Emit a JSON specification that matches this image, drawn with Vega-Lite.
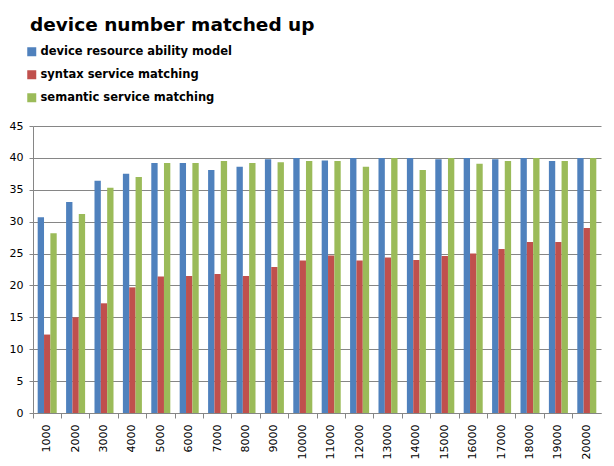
{
  "$schema": "https://vega.github.io/schema/vega-lite/v6.json",
  "width": 568,
  "height": 287,
  "autosize": {"type": "none"},
  "padding": {"left": 33, "top": 126, "right": 13, "bottom": 53},
  "background": "white",
  "title": {
    "text": "device number matched up",
    "anchor": "start",
    "frame": "group",
    "font": "DejaVu Sans",
    "fontSize": 18.5,
    "fontWeight": "bold",
    "color": "black",
    "offset": 12,
    "dx": -3
  },
  "data": {
    "values": [
      {"n": "1000", "device resource ability model": 30.7, "syntax service matching": 12.3, "semantic service matching": 28.2},
      {"n": "2000", "device resource ability model": 33.1, "syntax service matching": 15.0, "semantic service matching": 31.2},
      {"n": "3000", "device resource ability model": 36.4, "syntax service matching": 17.2, "semantic service matching": 35.3},
      {"n": "4000", "device resource ability model": 37.5, "syntax service matching": 19.7, "semantic service matching": 37.0},
      {"n": "5000", "device resource ability model": 39.2, "syntax service matching": 21.4, "semantic service matching": 39.2},
      {"n": "6000", "device resource ability model": 39.2, "syntax service matching": 21.5, "semantic service matching": 39.2},
      {"n": "7000", "device resource ability model": 38.1, "syntax service matching": 21.8, "semantic service matching": 39.5},
      {"n": "8000", "device resource ability model": 38.6, "syntax service matching": 21.5, "semantic service matching": 39.2},
      {"n": "9000", "device resource ability model": 39.8, "syntax service matching": 22.9, "semantic service matching": 39.3},
      {"n": "10000", "device resource ability model": 40.0, "syntax service matching": 23.9, "semantic service matching": 39.5},
      {"n": "11000", "device resource ability model": 39.6, "syntax service matching": 24.7, "semantic service matching": 39.5},
      {"n": "12000", "device resource ability model": 40.0, "syntax service matching": 23.9, "semantic service matching": 38.6},
      {"n": "13000", "device resource ability model": 40.0, "syntax service matching": 24.4, "semantic service matching": 40.0},
      {"n": "14000", "device resource ability model": 40.0, "syntax service matching": 24.0, "semantic service matching": 38.1},
      {"n": "15000", "device resource ability model": 39.8, "syntax service matching": 24.6, "semantic service matching": 40.0},
      {"n": "16000", "device resource ability model": 40.0, "syntax service matching": 25.0, "semantic service matching": 39.1},
      {"n": "17000", "device resource ability model": 39.8, "syntax service matching": 25.7, "semantic service matching": 39.5},
      {"n": "18000", "device resource ability model": 40.0, "syntax service matching": 26.8, "semantic service matching": 40.0},
      {"n": "19000", "device resource ability model": 39.5, "syntax service matching": 26.8, "semantic service matching": 39.5},
      {"n": "20000", "device resource ability model": 40.0, "syntax service matching": 29.0, "semantic service matching": 40.0}
    ]
  },
  "transform": [
    {"fold": ["device resource ability model", "syntax service matching", "semantic service matching"], "as": ["series", "value"]}
  ],
  "mark": {"type": "bar"},
  "encoding": {
    "x": {
      "field": "n",
      "type": "nominal",
      "sort": null,
      "scale": {"paddingInner": 0, "paddingOuter": 0},
      "axis": {
        "title": null,
        "labelAngle": -90,
        "labelAlign": "right",
        "labelBaseline": "middle",
        "labelFont": "DejaVu Sans",
        "labelFontSize": 11,
        "labelColor": "black",
        "labelPadding": 6,
        "bandPosition": 0,
        "ticks": true,
        "tickSize": 5,
        "tickColor": "#868686",
        "domainColor": "#868686",
        "grid": false
      }
    },
    "xOffset": {
      "field": "series",
      "type": "nominal",
      "sort": ["device resource ability model", "syntax service matching", "semantic service matching"],
      "scale": {"paddingInner": 0, "paddingOuter": 0.74}
    },
    "y": {
      "field": "value",
      "type": "quantitative",
      "scale": {"domain": [0, 45], "nice": false},
      "axis": {
        "title": null,
        "values": [0, 5, 10, 15, 20, 25, 30, 35, 40, 45],
        "labelFont": "DejaVu Sans",
        "labelFontSize": 11,
        "labelColor": "black",
        "labelPadding": 6,
        "tickSize": 4,
        "tickColor": "#868686",
        "domainColor": "#868686",
        "gridColor": "#868686",
        "gridWidth": 1
      }
    },
    "color": {
      "field": "series",
      "type": "nominal",
      "scale": {
        "domain": ["device resource ability model", "syntax service matching", "semantic service matching"],
        "range": ["#4F81BD", "#C0504D", "#9BBB59"]
      },
      "legend": {
        "title": null,
        "orient": "none",
        "legendX": -7,
        "legendY": -80,
        "symbolType": "square",
        "symbolSize": 81,
        "symbolStrokeWidth": 0,
        "symbolOpacity": 1,
        "labelFont": "DejaVu Sans",
        "labelFontSize": 11.5,
        "labelFontWeight": "bold",
        "labelColor": "black",
        "labelLimit": 0,
        "rowPadding": 10,
        "labelOffset": 3
      }
    }
  },
  "config": {
    "view": {"stroke": null}
  }
}
